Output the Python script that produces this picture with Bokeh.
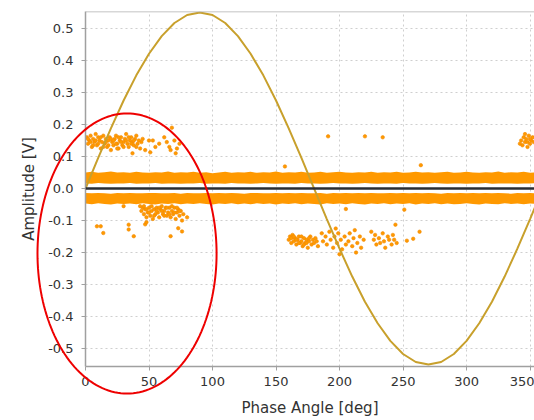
from bokeh.plotting import figure
from bokeh.models import Range1d, FixedTicker, PrintfTickFormatter, Span
from bokeh.embed import file_html
from bokeh.resources import INLINE
import numpy as np

# ---------------- data ----------------
x_ticks = [0, 50, 100, 150, 200, 250, 300, 350]
y_ticks = [-0.5, -0.4, -0.3, -0.2, -0.1, 0.0, 0.1, 0.2, 0.3, 0.4, 0.5]

# reference voltage waveform, read every 10 deg
wave_phase = [0, 10, 20, 30, 40, 50, 60, 70, 80, 90, 100, 110, 120, 130, 140, 150, 160, 170, 180,
              190, 200, 210, 220, 230, 240, 250, 260, 270, 280, 290, 300, 310, 320, 330, 340, 350, 360]
wave_amp = [0.0, 0.0955, 0.188, 0.275, 0.3535, 0.421, 0.476, 0.517, 0.542, 0.55,
            0.542, 0.517, 0.476, 0.421, 0.3535, 0.275, 0.188, 0.0955, 0.0,
            -0.0955, -0.188, -0.275, -0.3535, -0.421, -0.476, -0.517, -0.542, -0.55,
            -0.542, -0.517, -0.476, -0.421, -0.3535, -0.275, -0.188, -0.0955, 0.0]

# dense noise bands around zero, edges read every 5 deg
band_phase = list(range(0, 361, 5))
upper_top = [0.050, 0.052, 0.049, 0.051, 0.053, 0.050, 0.051, 0.049, 0.052, 0.050,
             0.049, 0.051, 0.050, 0.053, 0.049, 0.051, 0.050, 0.052, 0.049, 0.051,
             0.048, 0.050, 0.052, 0.049, 0.051, 0.050, 0.052, 0.049, 0.051, 0.050,
             0.053, 0.049, 0.051, 0.050, 0.052, 0.049, 0.050, 0.052, 0.049, 0.051,
             0.052, 0.050, 0.049, 0.051, 0.050, 0.052, 0.049, 0.051, 0.050, 0.052,
             0.049, 0.050, 0.052, 0.050, 0.051, 0.049, 0.051, 0.052, 0.049, 0.050,
             0.052, 0.050, 0.049, 0.051, 0.050, 0.053, 0.049, 0.051, 0.050, 0.052,
             0.049, 0.051, 0.050]
upper_bot = [0.016, 0.015, 0.017, 0.016, 0.015, 0.016, 0.016, 0.017, 0.015, 0.016,
             0.016, 0.017, 0.015, 0.016, 0.016, 0.015, 0.016, 0.016, 0.017, 0.015,
             0.016, 0.016, 0.015, 0.017, 0.016, 0.016, 0.015, 0.016, 0.017, 0.016,
             0.015, 0.016, 0.016, 0.015, 0.017, 0.016, 0.016, 0.015, 0.016, 0.017,
             0.016, 0.016, 0.015, 0.016, 0.017, 0.016, 0.015, 0.016, 0.016, 0.015,
             0.017, 0.016, 0.016, 0.015, 0.016, 0.017, 0.016, 0.015, 0.016, 0.016,
             0.015, 0.016, 0.016, 0.017, 0.015, 0.016, 0.016, 0.016, 0.015, 0.016,
             0.016, 0.017, 0.016]
lower_top = [-0.014, -0.015, -0.014, -0.015, -0.016, -0.014, -0.015, -0.014, -0.015, -0.015,
             -0.014, -0.014, -0.015, -0.015, -0.014, -0.016, -0.014, -0.015, -0.015, -0.014,
             -0.015, -0.014, -0.015, -0.014, -0.015, -0.016, -0.014, -0.014, -0.015, -0.015,
             -0.014, -0.015, -0.014, -0.015, -0.014, -0.015, -0.015, -0.014, -0.016, -0.014,
             -0.015, -0.014, -0.015, -0.014, -0.015, -0.014, -0.015, -0.015, -0.014, -0.015,
             -0.014, -0.015, -0.014, -0.015, -0.014, -0.015, -0.016, -0.014, -0.015, -0.014,
             -0.015, -0.014, -0.015, -0.014, -0.015, -0.014, -0.015, -0.016, -0.014, -0.015,
             -0.014, -0.015, -0.014]
lower_bot = [-0.047, -0.049, -0.046, -0.048, -0.050, -0.047, -0.048, -0.047, -0.049, -0.046,
             -0.048, -0.050, -0.047, -0.048, -0.046, -0.049, -0.047, -0.048, -0.046, -0.048,
             -0.050, -0.047, -0.048, -0.046, -0.049, -0.047, -0.049, -0.046, -0.048, -0.047,
             -0.050, -0.047, -0.048, -0.046, -0.049, -0.047, -0.048, -0.050, -0.046, -0.048,
             -0.047, -0.049, -0.046, -0.048, -0.050, -0.047, -0.048, -0.046, -0.049, -0.047,
             -0.048, -0.046, -0.050, -0.047, -0.048, -0.046, -0.049, -0.047, -0.049, -0.048,
             -0.046, -0.048, -0.050, -0.047, -0.048, -0.049, -0.046, -0.048, -0.047, -0.049,
             -0.047, -0.048, -0.047]

# discharge pulses (phase deg, amplitude V)
pos_cluster_phase = [1, 2, 3, 4, 5, 6, 7, 8, 9, 10, 11, 12, 13, 14, 15, 16, 17, 18, 19, 20,
                     21, 22, 23, 24, 25, 26, 27, 28, 29, 30, 31, 32, 33, 34, 35, 36, 37, 38, 39, 40,
                     41, 42, 43, 44, 45,
                     2, 4, 6, 8, 10, 12, 14, 16, 18, 20, 22, 24, 26, 28, 30, 32, 34, 36, 38, 40,
                     47, 50, 51, 53, 55, 58, 62, 64, 66, 67, 68, 70, 71, 72, 74, 37, 25]
pos_cluster_amp = [0.16, 0.14, 0.15, 0.165, 0.13, 0.155, 0.145, 0.17, 0.135, 0.16,
                   0.15, 0.125, 0.145, 0.165, 0.14, 0.155, 0.13, 0.15, 0.16, 0.12,
                   0.145, 0.135, 0.155, 0.165, 0.14, 0.125, 0.15, 0.16, 0.135, 0.145,
                   0.155, 0.17, 0.14, 0.13, 0.15, 0.16, 0.145, 0.135, 0.155, 0.165,
                   0.14, 0.15, 0.125, 0.145, 0.155,
                   0.155, 0.145, 0.135, 0.15, 0.14, 0.16, 0.13, 0.145, 0.135, 0.155,
                   0.15, 0.14, 0.16, 0.145, 0.13, 0.15, 0.16, 0.14, 0.15, 0.13,
                   0.12, 0.15, 0.113, 0.15, 0.13, 0.14, 0.16, 0.145, 0.13, 0.12,
                   0.19, 0.15, 0.11, 0.125, 0.14, 0.11, 0.125]

neg_early_phase = [43, 44, 45, 46, 47, 48, 49, 50, 51, 52, 53, 54, 55, 56, 57, 58, 59, 60,
                   61, 62, 63, 64, 65, 66, 67, 68, 69, 70, 71, 72, 73, 74, 75, 76, 77,
                   46, 48, 50, 52, 54, 56, 58, 60, 62, 64, 66, 68, 70, 72, 74,
                   9, 12, 14, 34, 34, 38, 47, 48, 67, 73, 76, 80, 30]
neg_early_amp = [-0.055, -0.07, -0.06, -0.08, -0.065, -0.09, -0.075, -0.06, -0.085, -0.07,
                 -0.095, -0.065, -0.08, -0.06, -0.075, -0.09, -0.065, -0.055, -0.08, -0.07,
                 -0.06, -0.085, -0.075, -0.06, -0.09, -0.07, -0.08, -0.06, -0.095, -0.075,
                 -0.065, -0.085, -0.07, -0.1, -0.08,
                 -0.055, -0.065, -0.075, -0.055, -0.085, -0.07, -0.06, -0.07, -0.085, -0.06,
                 -0.08, -0.055, -0.075, -0.06, -0.07,
                 -0.118, -0.118, -0.139, -0.113, -0.128, -0.149, -0.112, -0.105, -0.149,
                 -0.124, -0.134, -0.09, -0.055]

neg_cluster_phase = [160, 161, 162, 163, 164, 165, 166, 167, 168, 169, 170, 171, 172, 173,
                     174, 175, 176, 177, 178, 179, 180, 181, 182, 183,
                     162, 164, 166, 168, 170, 172, 174, 176,
                     186, 187, 189, 190, 192, 193, 195, 196, 198, 199, 201, 202, 204, 205,
                     207, 208, 210, 211, 213, 214, 216, 217, 219, 200, 197, 212,
                     227, 228, 229, 231, 232, 234, 235, 236, 238, 239, 241, 242, 243, 245,
                     244, 225, 253, 258, 263]
neg_cluster_amp = [-0.16, -0.15, -0.17, -0.145, -0.165, -0.155, -0.175, -0.16, -0.15, -0.17,
                   -0.165, -0.18, -0.155, -0.17, -0.16, -0.185, -0.165, -0.15, -0.175, -0.16,
                   -0.17, -0.155, -0.165, -0.18,
                   -0.155, -0.15, -0.16, -0.17, -0.15, -0.175, -0.17, -0.155,
                   -0.14, -0.165, -0.15, -0.175, -0.135, -0.16, -0.185, -0.15, -0.17, -0.14,
                   -0.16, -0.19, -0.15, -0.175, -0.165, -0.14, -0.18, -0.155, -0.2, -0.17,
                   -0.15, -0.185, -0.16, -0.205, -0.125, -0.13,
                   -0.16, -0.145, -0.175, -0.155, -0.17, -0.14, -0.165, -0.185, -0.15, -0.16,
                   -0.175, -0.145, -0.16, -0.17, -0.113, -0.135, -0.163, -0.157, -0.135]

pos_late_phase = [342, 343, 344, 345, 346, 347, 348, 349, 350, 351, 352, 353, 346, 350, 348]
pos_late_amp = [0.14, 0.15, 0.135, 0.16, 0.145, 0.155, 0.13, 0.165, 0.14, 0.15, 0.16, 0.145,
                0.17, 0.155, 0.145]

stray_phase = [157, 191, 220, 234, 264, 205, 251]
stray_amp = [0.069, 0.163, 0.163, 0.16, 0.073, -0.064, -0.066]

# annotation ellipse (data units)
ell_center_x, ell_center_y = 32.7, -0.203
ell_half_w, ell_half_h = 70.5, 0.4375

# ---------------- layout constants ----------------
W, H = 534, 420
BORDER_L, BORDER_R, BORDER_T, BORDER_B = 85, 0, 11, 54
X0, X1 = 0.0, 353.5
Y0, Y1 = -0.556, 0.553

ORANGE = "#FF9900"
ORANGE_EDGE = "#F28A00"
GOLD = "#C8A02C"
TEXT = "#333333"
AXIS = "#A0A0A0"

p = figure(width=W, height=H, output_backend="svg", toolbar_location=None,
           x_range=Range1d(X0, X1), y_range=Range1d(Y0, Y1),
           min_border_left=BORDER_L, min_border_right=BORDER_R,
           min_border_top=BORDER_T, min_border_bottom=BORDER_B,
           background_fill_color="white", border_fill_color="white")

p.outline_line_color = None

p.xaxis.ticker = FixedTicker(ticks=x_ticks)
p.yaxis.ticker = FixedTicker(ticks=y_ticks)
p.yaxis.formatter = PrintfTickFormatter(format="%.1f")
p.xaxis.axis_label = "Phase Angle [deg]"
p.yaxis.axis_label = "Amplitude [V]"

for ax in (p.xaxis, p.yaxis):
    ax.axis_line_color = AXIS
    ax.axis_line_width = 1.5
    ax.major_tick_line_color = AXIS
    ax.major_tick_in = 0
    ax.major_tick_out = 4
    ax.minor_tick_line_color = None
    ax.major_label_text_font = "DejaVu Sans"
    ax.major_label_text_font_size = "13px"
    ax.major_label_text_color = TEXT
    ax.axis_label_text_font = "DejaVu Sans"
    ax.axis_label_text_font_size = "15px"
    ax.axis_label_text_font_style = "normal"
    ax.axis_label_text_color = TEXT

p.xaxis.major_label_standoff = 6
p.xaxis.axis_label_standoff = 10
p.yaxis.major_label_standoff = 8
p.yaxis.axis_label_standoff = 7

p.grid.grid_line_color = "#CFCFCF"
p.grid.grid_line_dash = "2 3"
p.grid.grid_line_width = 1

# top border of the plot area
p.add_layout(Span(location=Y1, dimension="width", line_color="#B0B0B0", line_width=1.5))

# noise bands
p.varea(x=band_phase, y1=upper_bot, y2=upper_top, fill_color=ORANGE)
p.varea(x=band_phase, y1=lower_bot, y2=lower_top, fill_color=ORANGE)

# pulses
for xs, ys in ((pos_cluster_phase, pos_cluster_amp), (neg_early_phase, neg_early_amp),
               (neg_cluster_phase, neg_cluster_amp), (pos_late_phase, pos_late_amp),
               (stray_phase, stray_amp)):
    p.scatter(x=xs, y=ys, size=3.5, marker="circle", fill_color=ORANGE,
              line_color=ORANGE_EDGE, line_width=0.6)

# reference sine
p.line(x=wave_phase, y=wave_amp, line_color=GOLD, line_width=2)

# zero line
p.add_layout(Span(location=0, dimension="width", line_color="#2A2D33", line_width=2.5))

# ---------- transparent overlay for the red ellipse (not clipped to the plot area) ----------
sx = (W - BORDER_L - BORDER_R) / (X1 - X0)
sy = (H - BORDER_T - BORDER_B) / (Y1 - Y0)
ov = figure(width=W, height=H, output_backend="svg", toolbar_location=None,
            x_range=Range1d(X0 - BORDER_L / sx, X1 + BORDER_R / sx),
            y_range=Range1d(Y0 - BORDER_B / sy, Y1 + BORDER_T / sy),
            x_axis_type=None, y_axis_type=None, min_border=0,
            background_fill_alpha=0, border_fill_alpha=0)
ov.outline_line_color = None
ov.styles = {"position": "absolute", "left": "0px", "top": "0px", "pointer-events": "none"}

t = np.linspace(0, 2 * np.pi, 181)
ov.line(x=ell_center_x + ell_half_w * np.cos(t), y=ell_center_y + ell_half_h * np.sin(t),
        line_color="#EE0000", line_width=2)

open("out.html", "w").write(file_html([p, ov], INLINE))
